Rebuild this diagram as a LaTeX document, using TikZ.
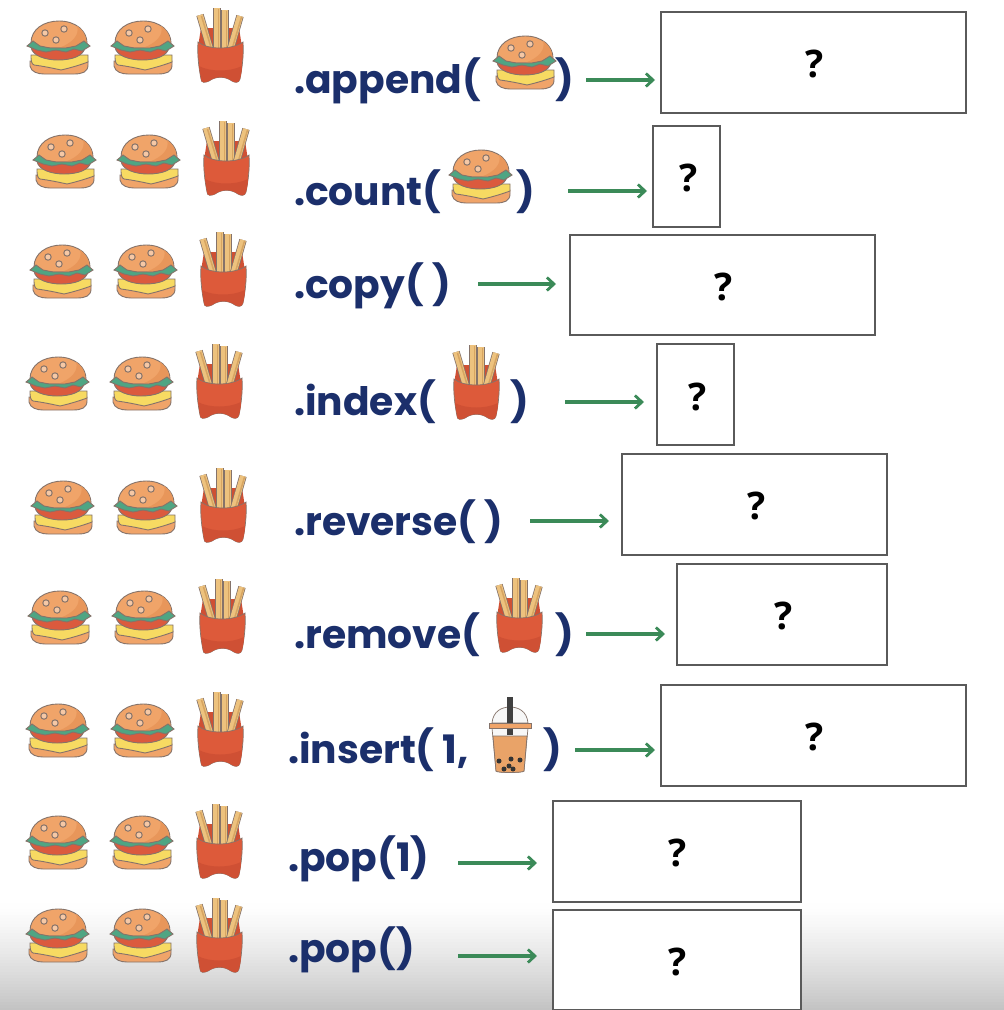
\documentclass[tikz,border=0pt]{standalone}
\usepackage{fontspec}
\setmainfont{Poppins}
\newfontfamily\qfont{Open Sans}
\usetikzlibrary{arrows.meta}
\definecolor{navy}{HTML}{1B2F6B}
\definecolor{arrowgreen}{HTML}{3B8A58}
\definecolor{boxedge}{HTML}{5A5A5A}
\definecolor{bun}{HTML}{F0A469}
\definecolor{bundark}{HTML}{E8965A}
\definecolor{lettuce}{HTML}{4FA583}
\definecolor{tomato}{HTML}{DB5A3E}
\definecolor{cheese}{HTML}{F7DA62}
\definecolor{outl}{HTML}{85736A}
\definecolor{fryc}{HTML}{EDC27E}
\definecolor{frydark}{HTML}{C9924F}
\definecolor{carton}{HTML}{DD5A3A}
\definecolor{cartond}{HTML}{CF5034}
\definecolor{tea}{HTML}{E9A368}
\tikzset{
  x=1pt,y=-1pt,
  answer/.style={draw=boxedge,line width=1.6pt,fill=white},
  qmark/.style={font=\qfont\bfseries\fontsize{38}{38}\selectfont,text=black,inner sep=0pt,xshift=2pt},
  call/.style={font=\bfseries\fontsize{39.2}{39.2}\selectfont,text=navy,inner sep=0pt,anchor=base west},
  flow/.style={draw=arrowgreen,line width=3.2pt,-{Straight Barb[length=7pt,width=13pt,line width=2.8pt]}},
  burger/.pic={
    \begin{scope}[draw=outl,line width=.9pt]
    % lower bun
    \filldraw[fill=bun] (-28,14) -- (-28,19) .. controls (-27,25) and (-20,27) .. (-14,27) -- (16,27) .. controls (24,27) and (30,25) .. (30,18) -- (30,14) -- cycle;
    % cheese
    \filldraw[fill=cheese] (-27,8) -- (30,8) -- (30,15) .. controls (22,18) and (12,21) .. (3,23) .. controls (-6,21) and (-16,19) .. (-24,18) .. controls (-27,17) and (-27,12) .. (-27,8) -- cycle;
    % tomato
    \filldraw[fill=tomato] (-27,0) .. controls (-26,9) and (-12,13) .. (0,13) .. controls (14,13) and (26,9) .. (27,0) -- cycle;
    % top bun
    \filldraw[fill=bun] (-27,-4) .. controls (-27,-18) and (-14,-26) .. (1,-26) .. controls (18,-26) and (29,-16) .. (29,-4) .. controls (29,-1) and (26,1) .. (22,1) -- (-22,1) .. controls (-26,1) and (-27,-1) .. (-27,-4) -- cycle;
    \fill[bundark] (28.5,-5) .. controls (28,-12) and (24,-18) .. (19,-21) .. controls (22,-12) and (14,-4) .. (2,0.5) -- (22,0.5) .. controls (26,0.5) and (28.5,-1) .. (28.5,-5) -- cycle;
    % lettuce
    \filldraw[fill=lettuce] (-31,-1) -- (-25,-6) -- (-18,-1) -- (-8,1) -- (-2,1) -- (8,1) -- (18,-1) -- (26,-6) -- (32,-1) -- (24,4) -- (16,2) -- (8,5) -- (-2,3) -- (-12,5) -- (-21,3) -- cycle;
    \foreach \sx/\sy in {-13/-14,6/-18,-2/-7}{
      \filldraw[fill=bun!60!white,draw=outl,line width=1pt] (\sx,\sy) circle (3.2);
    }
    \end{scope}
  },
  fries/.pic={
    \begin{scope}[draw=outl,line width=.7pt]
    \fill[cartond] (-19,-17) -- (19,-17) -- (22,2) -- (-22,2) -- cycle;
    \foreach \ax/\ay/\bx/\by in {-20/-30/-10/4, 5/-35/5/6, -3/-37/-3/8, 20/-29/10/6}{
      \draw[line width=7.5pt,draw=outl,line cap=butt] (\ax,\ay) -- (\bx,\by);
      \draw[line width=6pt,draw=fryc,line cap=butt] (\ax,\ay) -- (\bx,\by);
      \draw[line width=1.5pt,draw=frydark!60!fryc] (\ax+1.5,\ay+1) -- (\bx+1.5,\by);
    }
    \filldraw[fill=carton] (-22,-3) .. controls (-12,5) and (12,5) .. (23,-3) .. controls (24,10) and (22,24) .. (20,34) .. controls (19,38) and (15,38) .. (12,36) .. controls (5,31) and (-4,31) .. (-11,36) .. controls (-15,38) and (-19,38) .. (-19,34) .. controls (-21,24) and (-23,10) .. (-22,-3) -- cycle;
    \fill[cartond] (-21,21) .. controls (-10,27) and (10,27) .. (22,21) .. controls (22,26) and (21,30) .. (20,34) .. controls (19,38) and (15,38) .. (12,36) .. controls (5,31) and (-4,31) .. (-11,36) .. controls (-15,38) and (-19,38) .. (-19,34) -- cycle;
    \end{scope}
  },
  boba/.pic={
    \begin{scope}[draw=outl,line width=.7pt]
    \filldraw[fill=black!3] (-18,-12) .. controls (-17,-24) and (-8,-28) .. (0,-28) .. controls (8,-28) and (17,-24) .. (18,-12) -- cycle;
    \filldraw[fill=black!3] (-18,-7) -- (-14,36) .. controls (-13,38) and (13,38) .. (14,36) -- (18,-7) -- cycle;
    \filldraw[fill=tea] (-17,1) -- (-14,36) .. controls (-13,38) and (13,38) .. (14,36) -- (17,1) -- cycle;
    \fill[black!75] (-2.6,-38) rectangle (2.6,0);
    \filldraw[fill=bun] (-21,-12) rectangle (21,-7);
    \fill[black!75] (-2.6,-30) rectangle (2.6,-12);
    \foreach \px/\py in {-11/26,-1/31,10/25,-6/34,3/34,1/24}{
      \fill[black!80] (\px,\py) circle (2.5);
    }
    \end{scope}
  }
}
\begin{document}
\begin{tikzpicture}
\useasboundingbox (0,0) rectangle (1004,1010);
\fill[white] (0,0) rectangle (1004,1010);
% bottom fade: overlapping bands from white to light grey
\foreach \yy in {900,903,...,1008}{
  \pgfmathsetmacro{\vv}{24*((\yy-900)/110)^1.3}
  \fill[black!\vv] (0,\yy) rectangle (1004,1010);
}

% left-hand icons of each row
\foreach \ax/\bx/\fx/\ry/\fy in {
  58/142/220/47/45, 64/148/226/161/158, 61/145/223/271/269,
  57/141/219/383/381, 62/145/223/507/505, 59/143/222/617/616,
  57/142/220/730/729, 57/141/219/842/841, 57/141/219/935/935}{
  \pic at (\ax,\ry) {burger};
  \pic at (\bx,\ry) {burger};
  \pic at (\fx,\fy) {fries};
}

% inline icons
\pic at (524,62) {burger};
\pic at (480,176) {burger};
\pic at (476,382) {fries};
\pic at (519,615) {fries};
\pic at (510,735) {boba};

% calls
\node[call] (c1) at (294,93) {.append(};
\node[call] (c1b) at (555,93) {)};
\node[call] (c2) at (294,205) {.count(};
\node[call] (c2b) at (516,205) {)};
\node[call] (c3) at (294,298) {.copy( )};
\node[call] (c4) at (294,415) {.index(};
\node[call] (c4b) at (510,415) {)};
\node[call] (c5) at (294,535) {.reverse( )};
\node[call] (c6) at (294,648) {.remove(};
\node[call] (c6b) at (555,648) {)};
\node[call] (c7) at (288,763) {.insert( 1,};
\node[call] (c7b) at (543,763) {)};
\node[call] (c8) at (288,871) {.pop(1)};
\node[call] (c9) at (288,962) {.pop()};

% answer boxes
\foreach \n/\l/\t/\r/\b/\qx/\qy in {
  1/661/12/966/113/813/64, 2/653/126/720/227/687/178, 3/570/235/875/335/722/287,
  4/657/344/734/445/696/397, 5/622/454/887/555/755/506, 6/677/564/887/665/782/616,
  7/661/685/966/786/813/737, 8/553/801/801/902/676/853, 9/553/910/801/1010/676/962}{
  \draw[answer] (\l,\t) rectangle (\r,\b);
  \node[qmark] (q\n) at (\qx,\qy) {?};
  \coordinate (w\n) at (\l,\t);
}

% arrows
\foreach \n/\sx/\sy/\gap in {1/586/80/6,2/568/191/6,3/478/284/14,4/565/402/13,5/530/521/13,6/586/634/12,7/575/750/6,8/458/863/16,9/458/956/16}{
  \coordinate (s\n) at (\sx,\sy);
  \draw[flow,shorten >=\gap pt] (s\n) -- (w\n |- s\n);
}
\end{tikzpicture}
\end{document}
